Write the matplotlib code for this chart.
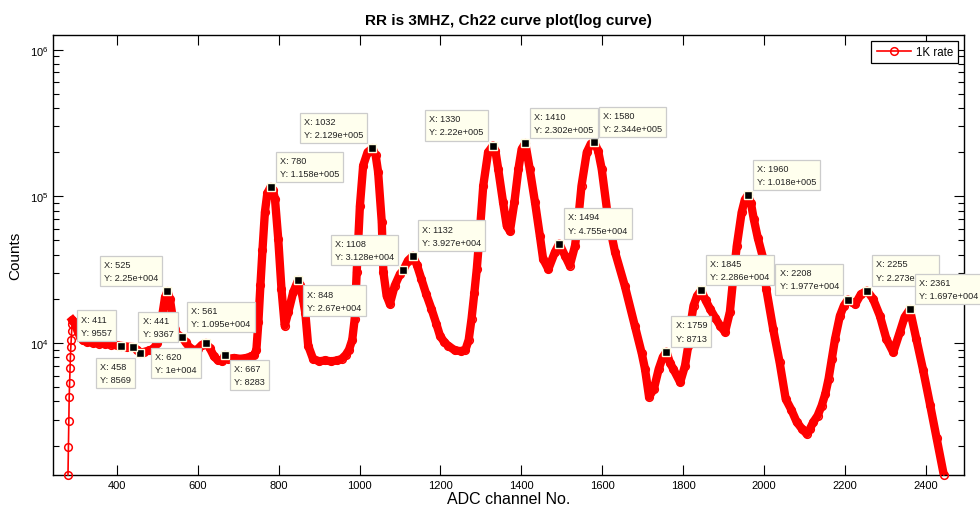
import numpy as np
import matplotlib.pyplot as plt
from matplotlib.ticker import LogLocator, FixedLocator, NullFormatter
from matplotlib.lines import Line2D

plt.rcParams['font.family'] = ['Liberation Sans', 'DejaVu Sans']

# spectrum: ADC channel -> counts
channel = [279, 280, 281, 282, 283, 284, 285, 286, 287, 288, 289, 290,
           294, 298, 303, 309, 316, 325, 340, 355, 370, 385, 400, 411,
           425, 441, 450, 458, 468, 480, 490, 500, 507, 513, 519, 525,
           531, 537, 543, 550, 561, 570, 580, 590, 600, 610, 620, 630,
           640, 650, 660, 667, 675, 690, 705, 720, 732, 740, 745, 750,
           755, 760, 766, 772, 780, 786, 791, 799, 807, 815, 824, 836,
           848, 853, 860, 866, 873, 885, 900, 915, 930, 945, 956, 966,
           974, 982, 988, 993, 1001, 1009, 1020, 1032, 1040, 1046, 1055, 1059,
           1067, 1075, 1087, 1100, 1108, 1120, 1132, 1142, 1153, 1165, 1178, 1190,
           1199, 1210, 1219, 1236, 1250, 1262, 1270, 1277, 1284, 1290, 1298, 1306,
           1318, 1330, 1336, 1343, 1355, 1364, 1372, 1383, 1393, 1401, 1410, 1421,
           1434, 1446, 1454, 1467, 1483, 1494, 1508, 1520, 1533, 1541, 1549, 1562,
           1572, 1580, 1590, 1599, 1615, 1632, 1656, 1681, 1698, 1706, 1716, 1728,
           1740, 1750, 1759, 1768, 1776, 1793, 1805, 1813, 1817, 1826, 1835, 1845,
           1856, 1867, 1880, 1892, 1904, 1916, 1924, 1933, 1945, 1953, 1960, 1968,
           1975, 1985, 1998, 2006, 2023, 2039, 2054, 2068, 2081, 2094, 2106, 2114,
           2122, 2133, 2143, 2152, 2160, 2168, 2176, 2188, 2198, 2208, 2218, 2226,
           2240, 2255, 2270, 2287, 2303, 2320, 2336, 2348, 2361, 2377, 2394, 2411,
           2427, 2445]
counts = [1259, 1955, 2940, 4285, 5335, 6765, 8035, 9390, 10480, 12070, 13490, 14350,
          13900, 13000, 12000, 11000, 10400, 10200, 10050, 9900, 9850, 9750, 9650, 9557,
          9450, 9367, 9000, 8569, 8700, 8900, 9100, 10000, 12500, 16000, 20500, 22500,
          20000, 15500, 12500, 11300, 10950, 10100, 9300, 8900, 9100, 9700, 10000, 9200,
          8100, 7600, 7500, 8283, 7800, 7900, 7800, 7900, 8100, 8300, 9000, 14000,
          25000, 43000, 78000, 105000, 115800, 110000, 95500, 51200, 23300, 13100, 16300, 22200,
          26700, 25000, 20000, 16000, 9600, 7800, 7500, 7600, 7500, 7600, 7800, 8300,
          9000, 10500, 14500, 30300, 86300, 162000, 200000, 212900, 190000, 146500, 66800, 30500,
          21000, 18450, 24550, 29500, 31280, 36500, 39270, 34000, 27300, 21500, 17060, 13500,
          11210, 10100, 9590, 8900, 8800, 9000, 10500, 14580, 22000, 31900, 59800, 118000,
          199500, 222000, 205000, 153500, 91000, 63000, 57900, 91000, 153500, 210000, 230200, 153500,
          91000, 53800, 37400, 31900, 41500, 47550, 39400, 33650, 46000, 70000, 118000, 199500,
          228000, 234400, 205000, 153500, 70000, 41600, 24550, 13100, 8500, 6650, 4300, 4860,
          6650, 8000, 8713, 7300, 6650, 5400, 7000, 9590, 12450, 17950, 21000, 22860,
          19500, 17060, 14800, 13100, 11880, 16300, 27300, 46000, 77600, 95000, 101800, 90000,
          70000, 52000, 38000, 23300, 12450, 7380, 4150, 3500, 2900, 2600, 2400, 2600,
          2880, 3200, 3740, 4500, 5690, 7800, 10650, 15300, 18000, 19770, 19000, 18400,
          21500, 22730, 20000, 15300, 10650, 8640, 11800, 15000, 16970, 10650, 6500, 3800,
          2250, 1259]

# data cursors: channel, counts, which side of the point the tip box sits
tip_x = [411, 458, 441, 525, 561, 620, 667, 780, 848, 1032, 1108,
         1132, 1330, 1410, 1580, 1494, 1759, 1845, 1960, 2208, 2255, 2361]
tip_y = [9557, 8569, 9367, 22500, 10950, 10000, 8283, 115800, 26700, 212900, 31280,
         39270, 222000, 230200, 234400, 47550, 8713, 22860, 101800, 19770, 22730, 16970]
tip_side = ['nw', 'sw', 'ne', 'nw', 'ne', 'sw', 'se', 'ne', 'se', 'nw', 'nw',
            'ne', 'nw', 'ne', 'ne', 'ne', 'ne', 'ne', 'ne', 'nw', 'ne', 'ne']

x_ticks = [400, 600, 800, 1000, 1200, 1400, 1600, 1800, 2000, 2200, 2400]


def matlab_g(v):
    s = '%.4g' % v
    if 'e' in s:
        m, e = s.split('e')
        s = '%se%s%03d' % (m, e[0], int(e[1:]))
    return s


fig = plt.figure(figsize=(9.8, 5.1), dpi=100)
ax = fig.add_axes([0.0541, 0.0667, 0.9296, 0.8627])

ch = np.array(channel)
ct = np.array(counts)
band = ch >= 290
ax.plot(ch[band], ct[band], color='red', lw=6.0, solid_joinstyle='round', zorder=2)
ax.plot(ch, ct, '-o', color='red', lw=1.2, ms=5.5, mfc='none', mew=1.1, zorder=3, clip_on=False)

ax.set_yscale('log')
ax.set_xlim(242, 2495)
ax.set_ylim(10 ** 3.1, 10 ** 6.1)
ax.xaxis.set_major_locator(FixedLocator(x_ticks))
ax.yaxis.set_major_locator(LogLocator(base=10))
ax.yaxis.set_minor_locator(LogLocator(base=10, subs=np.arange(2, 10)))
ax.yaxis.set_minor_formatter(NullFormatter())
ax.tick_params(which='both', direction='in', top=True, right=True, labelsize=8, width=0.8)
ax.tick_params(which='major', length=7)
ax.tick_params(which='minor', length=4.5)
for sp in ax.spines.values():
    sp.set_linewidth(1.0)

ax.set_title('RR is 3MHZ, Ch22 curve plot(log curve)', fontsize=11, fontweight='bold', pad=8)
ax.set_xlabel('ADC channel No.', fontsize=11.5, labelpad=1)
ax.set_ylabel('Counts', fontsize=11, labelpad=5)

# data tips
gap = 5 + 0.45 * 6.6 * 100 / 72
for x, y, side in zip(tip_x, tip_y, tip_side):
    ax.plot(x, y, 's', ms=6, mfc='black', mec='#fffbe0', mew=1.0, zorder=4, clip_on=False)
    ox = gap if side[1] == 'e' else -gap
    oy = gap if side[0] == 'n' else -gap
    ax.annotate('X: %d\nY: %s' % (x, matlab_g(y)), xy=(x, y), xytext=(ox, oy),
                textcoords='offset pixels', fontsize=6.6, color='#222222', linespacing=1.6,
                ha='left' if side[1] == 'e' else 'right',
                va='bottom' if side[0] == 'n' else 'top', multialignment='left',
                bbox=dict(boxstyle='square,pad=0.45', fc='#ffffee', ec='#cccccc', lw=0.9),
                zorder=5, annotation_clip=False)

handle = Line2D([], [], color='red', lw=1.2, marker='o', ms=5.5, mfc='none', mew=1.1)
leg = ax.legend([handle], ['1K rate'], loc='upper right', fontsize=8.3, fancybox=False,
                edgecolor='black', borderaxespad=0.5, borderpad=0.45, handlelength=3,
                handletextpad=0.4, framealpha=1)
leg.get_frame().set_linewidth(0.9)

fig.savefig('out.png', dpi=100)
